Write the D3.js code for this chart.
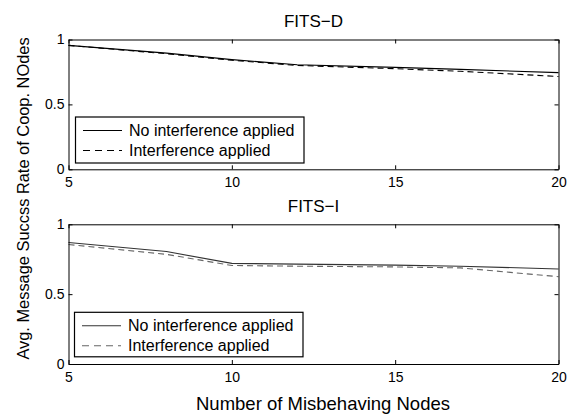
<!DOCTYPE html>
<html>
<head>
<meta charset="utf-8">
<script src="https://cdn.jsdelivr.net/npm/d3@7"></script>
<style>
  body { margin: 0; background: #fff; }
  text { font-family: "Liberation Sans", Arial, sans-serif; }
</style>
</head>
<body>
<svg id="graph1" width="571" height="415"></svg>
<script>
// number of misbehaving nodes
var nodes = [5, 8, 10, 12, 15, 17, 20];

// FITS-D
var fitsDNoInterf = [0.955, 0.895, 0.845, 0.805, 0.785, 0.770, 0.745];
var fitsDInterf   = [0.955, 0.890, 0.840, 0.800, 0.775, 0.755, 0.715];

// FITS-I
var fitsINoInterf = [0.870, 0.805, 0.720, 0.715, 0.708, 0.700, 0.680];
var fitsIInterf   = [0.855, 0.785, 0.705, 0.700, 0.695, 0.688, 0.625];

var xTicks = [5, 10, 15, 20];
var yTicks = [0, 0.5, 1];
var legendLabels = ["No interference applied", "Interference applied"];

var svg = d3.select("#graph1");

var margins = { left: 68.5, right: 558.5 };

var xScale = d3.scaleLinear()
              .domain([5, 20])
              .range([margins.left, margins.right]);

var drawPanel = function(top, bottom, title, solid, dashed, colors, legendBox)
{
  var yScale = d3.scaleLinear()
                 .domain([0, 1])
                 .range([bottom, top]);

  var g = svg.append("g");

  var drawLine = d3.line()
          .x(function(d, i){ return xScale(nodes[i]); })
          .y(function(d){ return yScale(d); });

  g.append("path")
   .datum(solid)
   .attr("d", drawLine)
   .attr("fill", "none")
   .attr("stroke", colors[0])
   .attr("stroke-width", 1.1);

  g.append("path")
   .datum(dashed)
   .attr("d", drawLine)
   .attr("fill", "none")
   .attr("stroke", colors[1])
   .attr("stroke-width", 1.1)
   .attr("stroke-dasharray", "6,4");

  // axes, matlab style ticks pointing inward
  var xAxis = d3.axisBottom(xScale).tickValues(xTicks).tickSize(-4).tickSizeOuter(0).tickPadding(8);
  var xAxisTop = d3.axisTop(xScale).tickValues(xTicks).tickSize(-4).tickSizeOuter(0).tickFormat("");
  var yAxis = d3.axisLeft(yScale).tickValues(yTicks).tickSize(-4).tickSizeOuter(0).tickPadding(4)
                .tickFormat(function(d){ return d; });
  var yAxisRight = d3.axisRight(yScale).tickValues(yTicks).tickSize(-4).tickSizeOuter(0).tickFormat("");

  g.append("g").attr("transform", "translate(0," + bottom + ")").call(xAxis);
  g.append("g").attr("transform", "translate(0," + top + ")").call(xAxisTop);
  g.append("g").attr("transform", "translate(" + margins.left + ",0)").call(yAxis);
  g.append("g").attr("transform", "translate(" + margins.right + ",0)").call(yAxisRight);

  g.selectAll(".tick text")
   .attr("font-size", 14)
   .attr("font-family", "Liberation Sans, Arial, sans-serif")
   .attr("fill", "#000");
  g.selectAll(".domain, .tick line").attr("stroke", "#000");

  g.append("text")
   .attr("x", (margins.left + margins.right) / 2)
   .attr("y", top - 12.5)
   .attr("text-anchor", "middle")
   .attr("font-size", 17)
   .text(title);

  // legend
  var leg = g.append("g");
  leg.append("rect")
     .attr("x", legendBox.x)
     .attr("y", legendBox.y)
     .attr("width", legendBox.w)
     .attr("height", legendBox.h)
     .attr("fill", "#fff")
     .attr("stroke", "#000")
     .attr("stroke-width", 1.2);

  legendLabels.forEach(function(lbl, i)
  {
    var cy = legendBox.y + 13.5 + i * 20;
    leg.append("line")
       .attr("x1", legendBox.x + 7.5)
       .attr("x2", legendBox.x + 46.5)
       .attr("y1", cy)
       .attr("y2", cy)
       .attr("stroke", colors[i])
       .attr("stroke-width", 1.1)
       .attr("stroke-dasharray", i == 1 ? "7,5" : null);
    leg.append("text")
       .attr("x", legendBox.x + 53.5)
       .attr("y", cy)
       .attr("dy", "0.35em")
       .attr("font-size", 16)
       .text(lbl);
  });
}

drawPanel(39.5, 169.3, "FITS\u2212D", fitsDNoInterf, fitsDInterf, ["#000", "#000"],
          { x: 75.5, y: 117, w: 228.5, h: 46 });
drawPanel(224.3, 364, "FITS\u2212I", fitsINoInterf, fitsIInterf, ["#333", "#666"],
          { x: 74.5, y: 312.3, w: 228.5, h: 44.5 });

svg.append("text")
   .attr("x", 323)
   .attr("y", 410)
   .attr("text-anchor", "middle")
   .attr("font-size", 18.5)
   .text("Number of Misbehaving Nodes");

svg.append("text")
   .attr("transform", "translate(23,198.5) rotate(-90)")
   .attr("text-anchor", "middle")
   .attr("dy", "0.35em")
   .attr("font-size", 16.4)
   .text("Avg. Message Succss Rate of Coop. NOdes");
</script>
</body>
</html>
